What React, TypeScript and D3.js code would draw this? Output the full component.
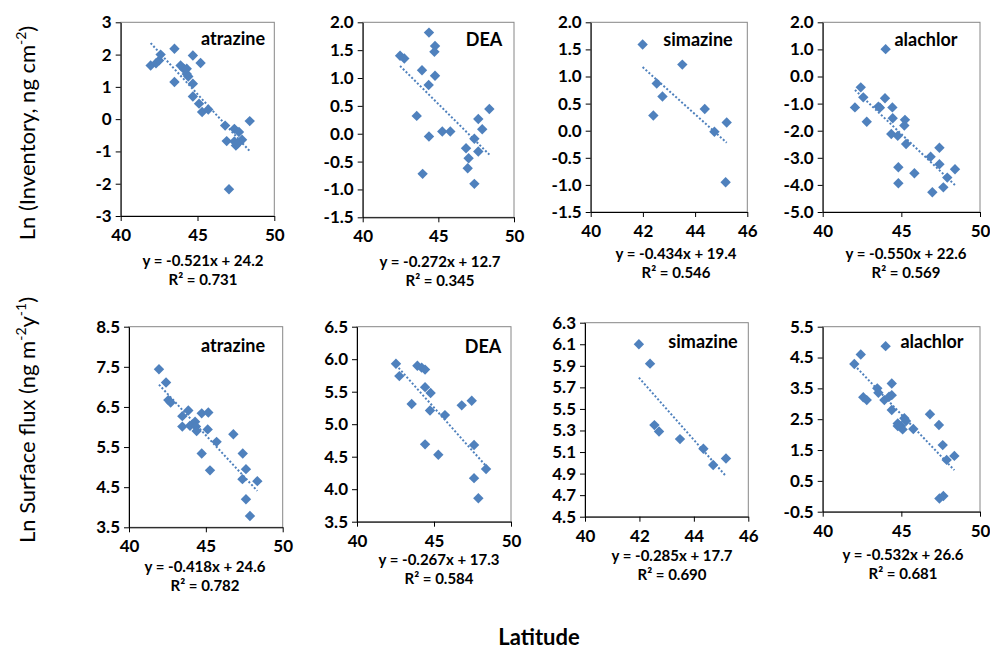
import React, { useEffect, useRef } from 'react'
import * as d3 from 'd3'

// [latitude, ln value]
const atrazineInventory: [number, number][] = [
  [41.95, 1.66], [42.3, 1.73], [42.5, 1.82], [42.6, 2.0], [43.5, 2.18], [43.5, 1.15],
  [43.9, 1.66], [44.1, 1.56], [44.3, 1.56], [44.3, 1.4], [44.4, 1.32], [44.7, 1.97],
  [44.7, 1.1], [45.2, 1.74], [44.7, 0.7], [45.1, 0.48], [45.3, 0.22], [45.7, 0.3],
  [46.8, -0.2], [47.4, -0.3], [47.7, -0.4], [46.9, -0.68], [47.4, -0.69], [47.5, -0.82],
  [47.9, -0.64], [47.6, -0.76], [48.4, -0.06], [47.05, -2.17]
]
const deaInventory: [number, number][] = [
  [44.38, 1.815], [44.78, 1.575], [44.74, 1.47], [42.47, 1.4], [42.75, 1.35], [43.92, 1.14],
  [44.78, 1.04], [44.36, 0.875], [43.57, 0.32], [48.37, 0.445], [47.64, 0.265], [47.9, 0.08],
  [45.26, 0.04], [45.79, 0.04], [44.38, -0.05], [47.38, -0.09], [46.83, -0.26], [47.64, -0.32],
  [47.0, -0.44], [46.94, -0.62], [43.96, -0.72], [47.38, -0.9]
]
const simazineInventory: [number, number][] = [
  [41.99, 1.59], [42.53, 0.87], [43.51, 1.22], [42.75, 0.63], [42.4, 0.28], [44.37, 0.4],
  [44.74, -0.02], [45.21, 0.15], [45.17, -0.95]
]
const alachlorInventory: [number, number][] = [
  [44.0, 1.01], [42.42, -0.4], [42.58, -0.77], [42.05, -1.14], [42.8, -1.67], [43.96, -0.8],
  [43.54, -1.11], [43.64, -1.15], [44.43, -1.14], [44.45, -1.54], [45.23, -1.6], [45.19, -1.81],
  [44.36, -2.12], [44.77, -2.19], [45.3, -2.49], [44.81, -3.35], [44.81, -3.94], [45.83, -3.57],
  [46.86, -2.96], [47.42, -2.63], [47.42, -3.24], [47.92, -3.73], [47.67, -4.09], [48.41, -3.42],
  [46.97, -4.27]
]
const atrazineFlux: [number, number][] = [
  [41.95, 7.44], [42.41, 7.11], [42.56, 6.67], [42.71, 6.61], [43.47, 6.27], [43.86, 6.41],
  [43.47, 6.01], [43.97, 6.03], [44.3, 6.13], [44.36, 6.01], [44.4, 5.9], [44.73, 6.34],
  [45.16, 6.36], [45.12, 5.94], [45.7, 5.63], [46.79, 5.82], [44.73, 5.34], [45.27, 4.92],
  [47.4, 5.34], [47.61, 4.95], [47.38, 4.7], [47.61, 4.2], [48.35, 4.65], [47.87, 3.78]
]
const deaFlux: [number, number][] = [
  [42.53, 5.93], [42.75, 5.74], [43.92, 5.9], [44.2, 5.87], [44.42, 5.84], [44.42, 5.57],
  [44.78, 5.48], [44.74, 5.21], [43.55, 5.31], [45.71, 5.14], [46.8, 5.29], [47.45, 5.36],
  [44.42, 4.69], [45.28, 4.53], [47.6, 4.68], [47.6, 4.17], [48.38, 4.31], [47.88, 3.86]
]
const simazineFlux: [number, number][] = [
  [41.98, 6.1], [42.39, 5.92], [42.55, 5.35], [42.72, 5.29], [43.49, 5.22], [44.35, 5.13],
  [44.71, 4.98], [45.18, 5.04]
]
const alachlorFlux: [number, number][] = [
  [44.0, 4.87], [42.42, 4.6], [42.01, 4.29], [42.58, 3.21], [42.8, 3.12], [43.47, 3.5],
  [43.54, 3.36], [43.92, 3.12], [44.22, 3.23], [44.39, 3.28], [44.39, 3.66], [44.39, 2.8],
  [44.77, 2.36], [44.98, 2.28], [45.19, 2.53], [45.3, 2.44], [45.08, 2.17], [45.76, 2.18],
  [46.82, 2.66], [47.39, 2.31], [47.63, 1.66], [47.88, 1.18], [48.37, 1.31], [47.42, -0.07],
  [47.67, 0.01], [44.77, 2.28]
]

const compounds = ['atrazine', 'DEA', 'simazine', 'alachlor']
const equations = [
  'y = -0.521x + 24.2', 'y = -0.272x + 12.7', 'y = -0.434x + 19.4', 'y = -0.550x + 22.6',
  'y = -0.418x + 24.6', 'y = -0.267x + 17.3', 'y = -0.285x + 17.7', 'y = -0.532x + 26.6'
]
const rSquared = ['0.731', '0.345', '0.546', '0.569', '0.782', '0.584', '0.690', '0.681']

const latTicks10 = [40, 45, 50]
const latTicks6 = [40, 42, 44, 46]
const yTicksAtrazineInv = [-3, -2, -1, 0, 1, 2, 3]
const yTicksDeaInv = [-1.5, -1.0, -0.5, 0.0, 0.5, 1.0, 1.5, 2.0]
const yTicksAlachlorInv = [-5, -4, -3, -2, -1, 0, 1, 2]
const yTicksAtrazineFlux = [3.5, 4.5, 5.5, 6.5, 7.5, 8.5]
const yTicksDeaFlux = [3.5, 4.0, 4.5, 5.0, 5.5, 6.0, 6.5]
const yTicksSimazineFlux = [4.5, 4.7, 4.9, 5.1, 5.3, 5.5, 5.7, 5.9, 6.1, 6.3]
const yTicksAlachlorFlux = [-0.5, 0.5, 1.5, 2.5, 3.5, 4.5, 5.5]

const BLUE = '#4F81BD'
const FONT = 'Lato, "Open Sans", sans-serif'

// layout: plot box [left, right, top, bottom], label and equation anchors
const panels = [
  { data: atrazineInventory, xTicks: latTicks10, yTicks: yTicksAtrazineInv, dec: 0, box: [120.7, 274.3, 22.3, 216], lab: [233, 45], eq: [203, 266] },
  { data: deaInventory, xTicks: latTicks10, yTicks: yTicksDeaInv, dec: 1, box: [362.7, 514, 22.3, 217.3], lab: [484, 46], eq: [440, 267] },
  { data: simazineInventory, xTicks: latTicks6, yTicks: yTicksDeaInv, dec: 1, box: [590.7, 747.3, 22.3, 212], lab: [698, 46], eq: [676, 259] },
  { data: alachlorInventory, xTicks: latTicks10, yTicks: yTicksAlachlorInv, dec: 1, box: [822.7, 980, 22.3, 212], lab: [926, 46], eq: [906, 259] },
  { data: atrazineFlux, xTicks: latTicks10, yTicks: yTicksAtrazineFlux, dec: 1, box: [129, 282.7, 326.7, 527.3], lab: [233, 352], eq: [205, 572] },
  { data: deaFlux, xTicks: latTicks10, yTicks: yTicksDeaFlux, dec: 1, box: [357, 511, 326.7, 521.7], lab: [483, 353], eq: [439, 565] },
  { data: simazineFlux, xTicks: latTicks6, yTicks: yTicksSimazineFlux, dec: 1, box: [585, 748.3, 322.7, 516.7], lab: [703, 348], eq: [672, 561] },
  { data: alachlorFlux, xTicks: latTicks10, yTicks: yTicksAlachlorFlux, dec: 1, box: [822.7, 980, 326.7, 511.7], lab: [932, 348], eq: [903, 560] }
]

function fit(data: [number, number][]) {
  const mx = d3.mean(data, d => d[0]) as number
  const my = d3.mean(data, d => d[1]) as number
  const sxy = d3.sum(data, d => (d[0] - mx) * (d[1] - my))
  const sxx = d3.sum(data, d => (d[0] - mx) ** 2)
  const slope = sxy / sxx
  return { slope, intercept: my - slope * mx }
}

function drawPanel(svg: any, p: any, i: number) {
  const [x0, x1, y0, y1] = p.box
  const xs = p.xTicks
  const ys = p.yTicks
  const x = d3.scaleLinear().domain([xs[0], xs[xs.length - 1]]).range([x0, x1])
  const y = d3.scaleLinear().domain([ys[0], ys[ys.length - 1]]).range([y1, y0])
  const g = svg.append('g')

  g.append('rect')
    .attr('x', x0).attr('y', y0)
    .attr('width', x1 - x0).attr('height', y1 - y0)
    .attr('fill', 'none').attr('stroke', '#868686')

  const yAxis = g.append('g')
    .attr('transform', `translate(${x0},0)`)
    .call(d3.axisLeft(y).tickValues(ys).tickSize(5).tickSizeOuter(0).tickPadding(4)
      .tickFormat((d: any) => d.toFixed(p.dec)))
  const xAxis = g.append('g')
    .attr('transform', `translate(0,${y1})`)
    .call(d3.axisBottom(x).tickValues(xs).tickSize(5).tickSizeOuter(0).tickPadding(8)
      .tickFormat((d: any) => String(d)))
  ;[xAxis, yAxis].forEach(a => {
    a.select('.domain').attr('stroke', '#000')
    a.selectAll('line').attr('stroke', '#000')
    a.selectAll('text')
      .attr('font-family', FONT).attr('font-weight', 'bold')
      .attr('font-size', 17).attr('fill', '#000')
  })

  // dotted linear trend
  const { slope, intercept } = fit(p.data)
  const ext = d3.extent(p.data, (d: [number, number]) => d[0]) as [number, number]
  g.append('path')
    .attr('d', d3.line<number>().x(v => x(v)).y(v => y(slope * v + intercept))(ext))
    .attr('fill', 'none').attr('stroke', BLUE)
    .attr('stroke-width', 2).attr('stroke-dasharray', '2 2')

  g.selectAll('path.pt')
    .data(p.data)
    .enter()
    .append('path')
    .attr('class', 'pt')
    .attr('d', d3.symbol(d3.symbolSquare, 54)())
    .attr('transform', (d: [number, number]) => `translate(${x(d[0])},${y(d[1])}) rotate(45)`)
    .attr('fill', BLUE)

  g.append('text')
    .attr('x', p.lab[0]).attr('y', p.lab[1])
    .attr('text-anchor', 'middle')
    .attr('font-family', FONT).attr('font-weight', 'bold').attr('font-size', 18)
    .text(compounds[i % 4])

  g.append('text')
    .attr('x', p.eq[0]).attr('y', p.eq[1])
    .attr('text-anchor', 'middle')
    .attr('font-family', FONT).attr('font-weight', 'bold').attr('font-size', 15)
    .text(equations[i])
  g.append('text')
    .attr('x', p.eq[0]).attr('y', p.eq[1] + 18.5)
    .attr('text-anchor', 'middle')
    .attr('font-family', FONT).attr('font-weight', 'bold').attr('font-size', 15)
    .text(`R² = ${rSquared[i]}`)
}

function yTitle(svg: any, cx: number, cy: number, parts: [string, boolean][]) {
  const t = svg.append('text')
    .attr('transform', `translate(${cx},${cy}) rotate(-90)`)
    .attr('text-anchor', 'middle')
    .attr('font-family', FONT).attr('font-size', 22).attr('fill', '#000')
  let up = false
  parts.forEach(([s, sup]) => {
    const ts = t.append('tspan').text(s)
    if (sup && !up) ts.attr('dy', -9).attr('font-size', 14)
    else if (sup) ts.attr('font-size', 14)
    else if (up) ts.attr('dy', 9)
    up = sup
  })
}

export default function App() {
  const ref = useRef<SVGSVGElement>(null)

  useEffect(() => {
    const svg = d3.select(ref.current)
    svg.selectAll('*').remove()
    panels.forEach((p, i) => drawPanel(svg, p, i))

    yTitle(svg, 35, 133, [['Ln (Inventory, ng cm', false], ['-2', true], [')', false]])
    yTitle(svg, 35, 420, [['Ln Surface flux (ng m', false], ['-2', true], ['y', false], ['-1', true], [')', false]])

    svg.append('text')
      .attr('x', 539).attr('y', 645)
      .attr('text-anchor', 'middle')
      .attr('font-family', FONT).attr('font-weight', 'bold').attr('font-size', 22)
      .text('Latitude')
  }, [])

  return (
    <svg
      ref={ref}
      width={990}
      height={650}
      style={{ position: 'absolute', left: 0, top: 0, background: '#fff' }}
    />
  )
}
